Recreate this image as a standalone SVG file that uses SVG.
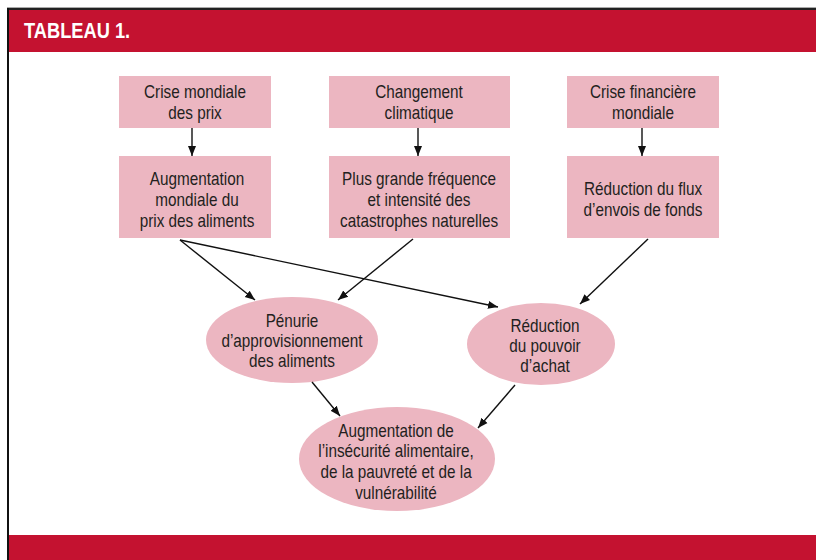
<svg xmlns="http://www.w3.org/2000/svg" width="816" height="560" viewBox="0 0 816 560">
<defs>
<marker id="ah" viewBox="0 0 10 10" refX="10" refY="5" markerWidth="10" markerHeight="10" markerUnits="userSpaceOnUse" orient="auto">
<path d="M0,1 L10,5 L0,9 Z" fill="#111"/>
</marker>
<style>
.box{fill:#ecb6c1}
.t{font-family:"Liberation Sans",Arial,sans-serif;font-size:18px;fill:#231f20;text-anchor:middle}
.c{stroke:#111;stroke-width:1.4;fill:none;marker-end:url(#ah)}
</style>
</defs>
<rect x="0" y="0" width="816" height="560" fill="#fff"/>
<line x1="7" y1="7.5" x2="816" y2="7.5" stroke="#aaa" stroke-width="1"/>
<rect x="7" y="8" width="809" height="2" fill="#222"/>
<rect x="7" y="8" width="2" height="552" fill="#111"/>
<rect id="header" x="9" y="10" width="807" height="42" fill="#c41230"/>
<text transform="translate(24,38) scale(0.83,1)" font-family="'Liberation Sans',Arial,sans-serif" font-size="22" font-weight="bold" fill="#fff">TABLEAU 1.</text>
<rect id="footer" x="9" y="535" width="807" height="25" fill="#c41230"/>

<g id="n1"><rect class="box" x="119" y="76" width="152" height="52"/>
<text class="t" transform="translate(195,98) scale(0.85,1)">Crise mondiale</text><text class="t" transform="translate(195,119) scale(0.85,1)">des prix</text></g>
<g id="n2"><rect class="box" x="329" y="76" width="181" height="52"/>
<text class="t" transform="translate(419,98) scale(0.85,1)">Changement</text><text class="t" transform="translate(419,119) scale(0.85,1)">climatique</text></g>
<g id="n3"><rect class="box" x="567" y="76" width="152" height="52"/>
<text class="t" transform="translate(643,98) scale(0.85,1)">Crise financière</text><text class="t" transform="translate(643,119) scale(0.85,1)">mondiale</text></g>

<g id="n4"><rect class="box" x="119" y="156" width="152" height="82"/>
<text class="t" transform="translate(197,185) scale(0.85,1)">Augmentation</text><text class="t" transform="translate(197,206) scale(0.85,1)">mondiale du</text><text class="t" transform="translate(197,227) scale(0.85,1)">prix des aliments</text></g>
<g id="n5"><rect class="box" x="329" y="156" width="181" height="82"/>
<text class="t" transform="translate(419,185) scale(0.85,1)">Plus grande fréquence</text><text class="t" transform="translate(419,206) scale(0.85,1)">et intensité des</text><text class="t" transform="translate(419,227) scale(0.85,1)">catastrophes naturelles</text></g>
<g id="n6"><rect class="box" x="567" y="156" width="152" height="82"/>
<text class="t" transform="translate(643,195) scale(0.85,1)">Réduction du flux</text><text class="t" transform="translate(643,216) scale(0.85,1)">d’envois de fonds</text></g>

<g id="n7"><ellipse class="box" cx="292" cy="340" rx="86" ry="43"/>
<text class="t" transform="translate(292,327) scale(0.85,1)">Pénurie</text><text class="t" transform="translate(292,347) scale(0.85,1)">d’approvisionnement</text><text class="t" transform="translate(292,367) scale(0.85,1)">des aliments</text></g>
<g id="n8"><ellipse class="box" cx="541" cy="344" rx="74" ry="41"/>
<text class="t" transform="translate(545,332) scale(0.85,1)">Réduction</text><text class="t" transform="translate(545,352) scale(0.85,1)">du pouvoir</text><text class="t" transform="translate(545,372) scale(0.85,1)">d’achat</text></g>
<g id="n9"><ellipse class="box" cx="397" cy="459" rx="98" ry="52"/>
<text class="t" transform="translate(396,437) scale(0.85,1)">Augmentation de</text><text class="t" transform="translate(396,457) scale(0.85,1)">l’insécurité alimentaire,</text><text class="t" transform="translate(396,478) scale(0.85,1)">de la pauvreté et de la</text><text class="t" transform="translate(396,499) scale(0.85,1)">vulnérabilité</text></g>

<g id="connectors">
<line class="c" x1="192" y1="128" x2="192" y2="156"/>
<line class="c" x1="418" y1="128" x2="418" y2="156"/>
<line class="c" x1="642" y1="128" x2="642" y2="156"/>
<line class="c" x1="180" y1="240" x2="255" y2="300"/>
<line class="c" x1="180" y1="240" x2="498" y2="307"/>
<line class="c" x1="413" y1="239" x2="338" y2="300"/>
<line class="c" x1="648" y1="239" x2="580" y2="304"/>
<line class="c" x1="312" y1="382" x2="340" y2="416"/>
<line class="c" x1="515" y1="385" x2="478" y2="428"/>
</g>
</svg>
